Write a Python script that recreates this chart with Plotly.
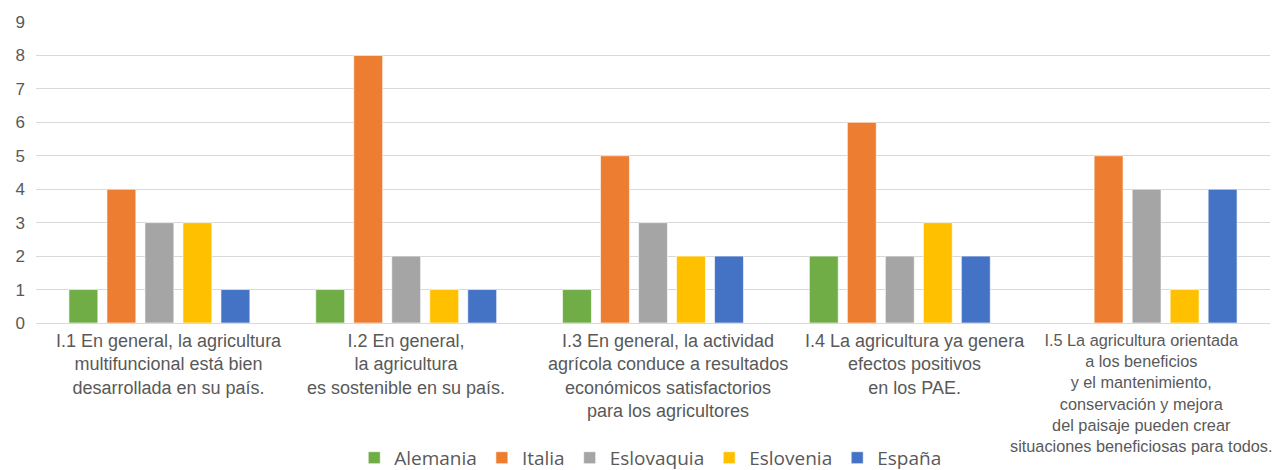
import plotly.graph_objects as go

categories = [
    "I.1 En general, la agricultura<br>multifuncional está bien<br>desarrollada en su país.",
    "I.2 En general,<br>la agricultura<br>es sostenible en su país.",
    "I.3 En general, la actividad<br>agrícola conduce a resultados<br>económicos satisfactorios<br>para los agricultores",
    "I.4 La agricultura ya genera<br>efectos positivos<br>en los PAE.",
    "I.5 La agricultura orientada<br>a los beneficios<br>y el mantenimiento,<br>conservación y mejora<br>del paisaje pueden crear<br>situaciones beneficiosas para todos.",
]
series_names = ["Alemania", "Italia", "Eslovaquia", "Eslovenia", "España"]
alemania = [1, 1, 1, 2, None]
italia = [4, 8, 5, 6, 5]
eslovaquia = [3, 2, 3, 2, 4]
eslovenia = [3, 1, 2, 3, 1]
espana = [1, 1, 2, 2, 4]
colors = ["#70AD47", "#ED7D31", "#A5A5A5", "#FFC000", "#4472C4"]
y_ticks = list(range(0, 10))

values = [alemania, italia, eslovaquia, eslovenia, espana]
label_xshift = [10, 0, 15, 15, -6]
label_size = [18, 18, 18, 18, 16.3]

fig = go.Figure()
for name, vals, col in zip(series_names, values, colors):
    fig.add_trace(go.Bar(
        x=categories, y=vals, name=name,
        marker=dict(color=col, line=dict(color="rgba(255,255,255,0.6)", width=1)),
    ))

for cat, dx, fs in zip(categories, label_xshift, label_size):
    fig.add_annotation(
        x=cat, xref="x", y=0, yref="paper", yanchor="top", yshift=-6,
        xshift=dx, text=cat, showarrow=False, align="center",
        font=dict(family="Liberation Sans, Arial, sans-serif", size=fs, color="#595959"),
    )

fig.update_layout(
    width=1280, height=470,
    margin=dict(l=36, r=10, t=22, b=147, autoexpand=False),
    paper_bgcolor="white", plot_bgcolor="white",
    barmode="group", bargap=0.23, bargroupgap=0.24,
    font=dict(family="Liberation Sans, Arial, sans-serif", color="#595959", size=16),
    xaxis=dict(
        showgrid=False, showline=True, linecolor="#D9D9D9", linewidth=1,
        ticks="", automargin=False, showticklabels=False,
        range=[-0.5, len(categories) - 0.5],
    ),
    yaxis=dict(
        range=[0, 9], tickvals=y_ticks, showgrid=True, gridcolor="#D9D9D9", gridwidth=1,
        zeroline=False, showline=False, ticks="", ticklabelstandoff=10, automargin=False,
        tickfont=dict(size=17, color="#595959"),
    ),
    legend=dict(
        orientation="h", xref="container", yref="paper",
        x=0.508, xanchor="center", y=-0.448, yanchor="middle",
        font=dict(family="Open Sans, DejaVu Sans, sans-serif", size=19, color="#595959"),
        itemwidth=30, traceorder="normal",
    ),
    showlegend=True,
)

fig.write_html("out.html", config={"displayModeBar": False},
               post_script="document.body.style.margin='0';document.body.style.padding='0';")
